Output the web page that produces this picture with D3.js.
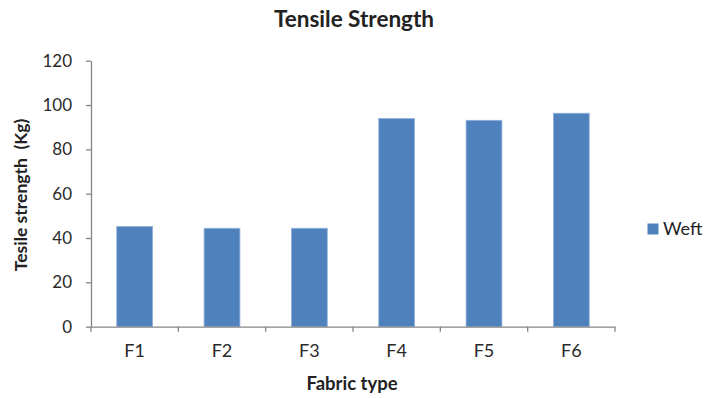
<!DOCTYPE html>
<html>
<head>
<meta charset="utf-8">
<script src="https://cdn.jsdelivr.net/npm/d3@7"></script>
<style>
  html, body { margin: 0; padding: 0; background: #fff; }
  svg { display: block; }
  text { font-family: Lato, "Open Sans", sans-serif; fill: #222; }
</style>
</head>
<body>
<svg id="chart" width="707" height="398"></svg>
<script>
const categories = ["F1", "F2", "F3", "F4", "F5", "F6"];
const weftValues = [45.2, 44.4, 44.4, 93.9, 93.1, 96.3];
const yTicks = [0, 20, 40, 60, 80, 100, 120];
const seriesName = "Weft";
const chartTitle = "Tensile Strength";
const xTitle = "Fabric type";
const yTitle = "Tesile strength  (Kg)";

const svg = d3.select("#chart");
const plotLeft = 91, plotRight = 615, plotTop = 60.7, plotBottom = 326.7;
const axisColor = "#868686";
const barColor = "#4F81BD";

const x = d3.scaleBand().domain(categories).range([plotLeft, plotRight]).paddingInner(0.59).paddingOuter(0.295);
const xb = d3.scaleBand().domain(categories).range([plotLeft, plotRight]);
const y = d3.scaleLinear().domain([0, 120]).range([plotBottom, plotTop]);

// bars
svg.append("g").selectAll("rect").data(categories).join("rect")
  .attr("x", d => x(d))
  .attr("width", x.bandwidth())
  .attr("y", (d, i) => y(weftValues[i]))
  .attr("height", (d, i) => y(0) - y(weftValues[i]))
  .attr("fill", barColor)
  .attr("stroke", "#8FB0DA")
  .attr("stroke-width", 0.8);

// y axis
const yAxis = svg.append("g").attr("transform", `translate(${plotLeft},0)`)
  .call(d3.axisLeft(y).tickValues(yTicks).tickSize(5).tickSizeOuter(0).tickPadding(14));
yAxis.select(".domain").attr("stroke", axisColor).attr("stroke-width", 1.3);
yAxis.selectAll(".tick line").attr("stroke", axisColor).attr("stroke-width", 1.3);
yAxis.selectAll(".tick text").style("font-size", "17px").style("fill", "#2a2a2a");

// x axis
const xAxis = svg.append("g").attr("transform", `translate(0,${plotBottom})`)
  .call(d3.axisBottom(xb).tickSize(0).tickPadding(18));
xAxis.select(".domain").attr("stroke", axisColor).attr("stroke-width", 1.3);
xAxis.selectAll(".tick text").style("font-size", "18px").style("fill", "#2a2a2a");
const bounds = categories.map(c => xb(c)).concat([plotRight]);
xAxis.selectAll(".btick").data(bounds).join("line")
  .attr("class", "btick")
  .attr("x1", d => d).attr("x2", d => d)
  .attr("y1", 0).attr("y2", 5)
  .attr("stroke", axisColor).attr("stroke-width", 1.3);

// title
svg.append("text").attr("x", 354).attr("y", 27).attr("text-anchor", "middle")
  .style("font-size", "22.5px").style("font-weight", "bold").text(chartTitle);

// x title
svg.append("text").attr("x", 352).attr("y", 390).attr("text-anchor", "middle")
  .style("font-size", "18.5px").style("font-weight", "bold").text(xTitle);

// y title
svg.append("text").attr("transform", `translate(27,195) rotate(-90)`).attr("text-anchor", "middle")
  .style("font-size", "17.5px").style("font-weight", "bold").style("white-space", "pre")
  .text(yTitle);

// legend
const lg = svg.append("g");
lg.append("rect").attr("x", 647.5).attr("y", 223.5).attr("width", 11).attr("height", 11).attr("fill", barColor);
lg.append("text").attr("x", 663).attr("y", 235).style("font-size", "18px").text(seriesName);
</script>
</body>
</html>
